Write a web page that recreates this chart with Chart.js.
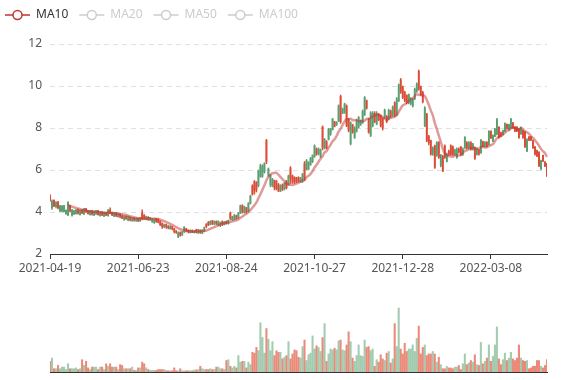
<!DOCTYPE html>
<html>
<head>
<meta charset="utf-8">
<script src="https://cdn.jsdelivr.net/npm/chart.js@4.4.1/dist/chart.umd.min.js"></script>
<style>
  html, body { margin: 0; padding: 0; background: #fff; }
  #wrap { position: relative; width: 577px; height: 380px; }
  #price { position: absolute; left: 0; top: 0; }
  #vol { position: absolute; left: 0; top: 285px; }
</style>
</head>
<body>
<div id="wrap">
  <canvas id="price" width="577" height="285"></canvas>
  <canvas id="vol" width="577" height="95"></canvas>
</div>
<script>
// tick labels shown on the x axis, one every 44 trading days
const tickLabels = ['2021-04-19', '2021-06-23', '2021-08-24', '2021-10-27', '2021-12-28', '2022-03-08'];
const tickEvery = 44;
const maNames = ['MA10', 'MA20', 'MA50', 'MA100'];

// daily candles: [open, close, low, high]
const candles = [
  [4.80,4.55,4.50,4.82],[4.20,4.52,4.12,4.58],[4.55,4.28,4.25,4.58],[4.25,4.45,4.20,4.50],[4.48,4.20,4.15,4.50],
  [4.05,4.30,4.02,4.32],[4.05,4.28,4.02,4.30],[4.02,4.30,4.00,4.32],[3.92,4.08,3.88,4.10],[3.85,4.45,3.82,4.50],
  [4.30,4.05,4.02,4.32],[3.85,4.10,3.80,4.12],[3.90,4.05,3.88,4.08],[3.92,4.10,3.90,4.12],[4.12,3.95,3.90,4.15],
  [3.88,4.08,3.85,4.10],[4.10,3.95,3.92,4.12],[3.90,4.15,3.88,4.18],[4.15,4.00,3.98,4.18],[4.05,3.92,3.90,4.08],
  [3.88,4.05,3.85,4.08],[4.05,3.90,3.85,4.08],[3.85,4.02,3.82,4.05],[3.90,4.05,3.88,4.08],[4.05,3.88,3.85,4.08],
  [3.82,4.00,3.80,4.02],[4.00,3.85,3.82,4.02],[3.80,3.98,3.78,4.00],[3.98,3.85,3.82,4.00],[3.82,4.10,3.80,4.12],
  [4.10,3.95,3.92,4.20],[3.98,3.85,3.82,4.00],[3.80,3.95,3.78,3.98],[3.95,3.82,3.78,3.98],[3.78,3.92,3.75,3.95],
  [3.90,3.78,3.72,3.92],[3.82,3.70,3.68,3.85],[3.65,3.80,3.60,3.82],[3.80,3.68,3.65,3.82],[3.62,3.78,3.58,3.80],
  [3.75,3.62,3.58,3.78],[3.60,3.72,3.55,3.75],[3.72,3.60,3.56,3.74],[3.58,3.70,3.55,3.72],[3.70,3.58,3.54,3.72],
  [3.58,3.72,3.55,3.75],[3.95,3.68,3.62,4.10],[3.85,3.70,3.65,3.88],[3.65,3.78,3.62,3.80],[3.75,3.65,3.60,3.78],
  [3.62,3.72,3.60,3.75],[3.55,3.68,3.50,3.70],[3.50,3.65,3.46,3.68],[3.68,3.55,3.50,3.70],[3.65,3.52,3.48,3.68],
  [3.55,3.40,3.35,3.58],[3.45,3.30,3.22,3.48],[3.28,3.40,3.25,3.42],[3.40,3.30,3.22,3.42],[3.32,3.25,3.20,3.35],
  [3.20,3.32,3.18,3.35],[3.30,3.20,3.15,3.32],[3.20,3.08,3.00,3.22],[3.10,3.02,2.98,3.12],[2.82,3.00,2.78,3.05],
  [3.02,2.90,2.85,3.05],[2.90,3.05,2.88,3.08],[3.05,3.28,3.02,3.30],[3.20,3.10,3.05,3.22],[3.12,3.05,3.00,3.15],
  [3.02,3.12,3.00,3.15],[3.12,3.05,3.02,3.15],[3.02,3.10,3.00,3.12],[3.15,3.05,3.00,3.18],[3.00,3.15,2.98,3.18],
  [3.12,3.02,2.98,3.15],[3.00,3.12,2.96,3.15],[3.08,3.25,3.05,3.28],[3.40,3.30,3.25,3.45],[3.50,3.40,3.35,3.55],
  [3.40,3.55,3.38,3.58],[3.58,3.45,3.40,3.60],[3.42,3.55,3.40,3.58],[3.55,3.45,3.40,3.58],[3.40,3.55,3.35,3.58],
  [3.38,3.50,3.30,3.52],[3.55,3.42,3.35,3.58],[3.40,3.52,3.38,3.55],[3.55,3.45,3.42,3.58],[3.45,3.60,3.42,3.62],
  [3.95,3.70,3.62,4.00],[3.62,3.78,3.60,3.80],[3.65,3.85,3.62,3.88],[3.82,3.70,3.65,3.85],[3.72,3.95,3.70,3.98],
  [3.95,4.30,3.92,4.33],[4.30,4.00,3.95,4.35],[3.98,4.25,3.95,4.28],[4.20,4.00,3.95,4.22],[4.05,4.40,4.02,4.45],
  [4.40,4.75,4.38,4.80],[5.25,4.85,4.80,5.30],[5.45,5.00,4.85,5.50],[5.40,5.05,4.95,5.45],[5.25,5.95,5.20,6.00],
  [5.70,6.20,5.65,6.28],[5.70,6.20,5.65,6.25],[5.90,6.30,5.85,6.35],[7.40,6.40,6.30,7.46],[5.75,6.05,5.70,6.10],
  [5.30,5.75,5.20,5.78],[5.25,5.55,5.20,5.60],[5.50,5.15,5.05,5.52],[5.48,5.10,5.05,5.50],[5.30,5.00,4.97,5.36],
  [5.00,5.25,4.97,5.30],[5.30,5.08,5.02,5.34],[5.10,5.38,5.05,5.40],[5.48,5.15,5.10,5.50],[5.30,5.72,5.28,5.76],
  [6.10,5.60,5.36,6.16],[5.72,5.45,5.36,5.76],[5.65,5.42,5.36,5.68],[5.62,5.45,5.40,5.65],[5.65,5.48,5.42,5.68],
  [5.45,5.60,5.42,5.65],[5.45,5.80,5.40,5.84],[6.30,5.60,5.50,6.40],[6.02,6.45,6.00,6.50],[6.05,6.35,6.00,6.40],
  [6.25,6.55,6.22,6.60],[6.40,6.70,6.35,6.72],[6.65,7.15,6.60,7.20],[7.00,6.75,6.70,7.05],[6.78,7.00,6.72,7.05],
  [6.65,6.95,6.60,7.00],[8.05,7.05,6.95,8.10],[7.05,7.45,7.00,7.50],[7.35,7.05,7.00,7.40],[7.45,7.95,7.43,7.98],
  [7.70,7.95,7.65,7.98],[7.92,8.42,7.90,8.46],[8.30,8.08,8.05,8.32],[8.15,8.28,8.12,8.30],[8.32,9.05,8.30,9.10],
  [9.50,8.30,8.22,9.57],[8.70,8.90,8.68,8.95],[8.72,9.15,8.70,9.18],[9.05,8.10,8.06,9.10],[8.40,7.90,7.82,8.46],
  [7.25,8.25,7.19,8.30],[8.15,7.80,7.75,8.18],[7.55,8.00,7.50,8.06],[7.85,8.35,7.80,8.40],[8.05,8.50,8.00,8.55],
  [8.15,8.35,8.12,8.38],[8.25,8.80,8.22,8.86],[8.62,9.45,8.60,9.50],[9.30,8.95,8.90,9.33],[8.42,7.80,7.75,8.46],
  [7.65,8.72,7.59,8.78],[8.10,8.70,8.05,8.78],[8.70,8.30,8.25,8.78],[8.20,8.70,8.15,8.78],[8.65,8.40,8.35,8.70],
  [8.60,8.10,8.05,8.62],[8.45,8.00,7.90,8.50],[8.50,8.85,8.46,8.90],[8.55,8.30,8.25,8.60],[8.40,8.85,8.38,8.90],
  [8.80,8.55,8.50,8.85],[8.60,9.00,8.55,9.05],[9.20,8.60,8.54,9.25],[8.65,9.40,8.60,9.45],[9.30,10.05,9.25,10.10],
  [10.30,9.70,9.65,10.36],[9.95,9.45,9.40,10.00],[9.70,9.30,9.25,9.75],[9.55,9.20,9.15,9.58],[9.20,9.60,9.15,9.62],
  [9.15,9.40,9.10,9.45],[9.05,9.35,9.00,9.41],[9.40,9.85,9.35,9.90],[9.75,10.10,9.70,10.15],[10.70,9.85,9.80,10.76],
  [9.95,9.60,9.55,10.00],[9.70,9.25,9.20,9.75],[8.10,8.95,8.06,9.02],[8.65,7.40,7.35,8.70],[7.60,7.30,7.20,7.65],
  [7.40,6.75,6.71,7.43],[6.75,7.05,6.70,7.10],[7.15,6.12,6.08,7.19],[6.70,7.30,6.65,7.35],[7.30,6.60,6.55,7.35],
  [6.20,6.70,6.15,6.75],[6.65,5.95,5.92,6.70],[7.15,6.60,6.55,7.20],[6.40,6.75,6.38,6.80],[6.90,6.75,6.70,6.95],
  [7.15,6.75,6.70,7.20],[7.10,6.75,6.70,7.15],[6.75,6.95,6.70,7.00],[6.60,7.00,6.55,7.05],[7.00,6.85,6.80,7.05],
  [7.10,6.75,6.70,7.12],[6.75,7.00,6.70,7.05],[7.05,7.55,7.03,7.59],[7.30,7.05,7.00,7.35],[7.05,7.30,7.00,7.35],
  [7.30,7.00,6.95,7.35],[6.98,7.25,6.95,7.27],[7.05,6.55,6.50,7.10],[6.75,7.00,6.71,7.03],[6.95,6.75,6.71,6.98],
  [6.82,7.42,6.79,7.46],[7.35,7.12,7.10,7.38],[7.12,7.32,7.10,7.35],[7.32,7.12,7.10,7.35],[7.20,7.85,7.19,7.87],
  [7.85,7.52,7.50,7.87],[7.38,7.65,7.35,7.67],[7.60,7.95,7.59,7.98],[7.70,8.40,7.67,8.46],[8.05,7.55,7.50,8.06],
  [7.78,7.62,7.59,7.80],[7.68,7.88,7.67,7.90],[7.85,8.22,7.83,8.25],[8.18,7.96,7.94,8.19],[7.92,8.16,7.90,8.19],
  [8.00,8.42,7.98,8.46],[8.25,8.00,7.98,8.27],[8.05,7.85,7.83,8.06],[8.05,7.85,7.83,8.06],[7.95,7.55,7.50,7.98],
  [7.72,8.02,7.70,8.06],[7.88,7.55,7.50,7.90],[7.80,7.10,7.08,7.83],[6.90,7.45,6.87,7.50],[7.58,7.42,7.40,7.59],
  [7.58,7.42,7.40,7.59],[7.40,7.05,7.03,7.43],[7.10,6.75,6.71,7.11],[6.92,6.66,6.63,6.95],[6.85,6.20,6.16,6.87],
  [6.05,6.45,6.00,6.47],[6.70,6.42,6.40,6.71],[6.38,6.18,6.16,6.40],[6.30,5.72,5.68,6.32]
];

// daily volume (relative units, axis max 100)
const volumes = [
  13,17,4,4,8,4,6,6,3,10,  4,4,4,5,3,4,15,8,13,5,  3,6,6,6,3,6,6,3,10,7,  10,6,6,6,3,9,8,4,4,4,
  4,6,2,2,5,5,12,10,5,3,  2,2,2,2,3,3,3,3,1.5,1.5,  1.5,1.5,5,1.5,1.5,4,1.5,1.5,1.5,1.5,
  1.5,1.5,2.5,2.5,3,7,4,3,3,3,  4,3,3,6,6,4,4,3,14,15,  7,5,7,5,20,12,13,13,5,12,
  9,24,23,30,26,60,42,23,53,40,  26,37,20,26,24,24,16,18,20,37,  16,22,27,26,18,17,31,39,14,21,
  23,44,28,32,30,25,42,59,13,22,  28,27,29,27,38,39,27,26,33,49,  37,17,13,20,33,20,19,39,30,31,
  26,28,7,15,12,21,16,14,23,25,  11,16,59,31,78,28,22,35,25,28,  28,33,25,41,56,22,30,33,20,22,
  22,25,22,12,18,9,4,4,7,5,  5,4,6,6,8,3,10,22,9,11,  14,12,21,9,8,36,10,13,17,33,
  13,19,33,55,16,9,15,23,14,17,  24,16,14,17,33,17,14,13,14,4,  5,7,7,14,14,7,5,8,15
];

const upColor = '#5a9e71';
const downColor = '#dc4b36';
const font = { family: '"Noto Sans", sans-serif', size: 12 };

const categories = volumes.map((v, i) => i);
const closes = candles.map(c => c[1]);
const ma10 = closes.map((c, i) => {
  if (i < 9) return null;
  let sum = 0;
  for (let k = i - 9; k <= i; k++) sum += closes[k];
  return sum / 10;
});
const isDown = i => candles[i][1] < candles[i][0];

// echarts style legend: line + hollow circle, only MA10 active
const maLegend = {
  id: 'maLegend',
  afterDraw(chart) {
    const ctx = chart.ctx;
    let x = 5;
    const y = 15;
    ctx.save();
    ctx.font = '12px "Noto Sans", sans-serif';
    ctx.textBaseline = 'middle';
    maNames.forEach((name, k) => {
      const col = k === 0 ? '#c23531' : '#cccccc';
      ctx.strokeStyle = col;
      ctx.lineWidth = 1.5;
      ctx.beginPath();
      ctx.moveTo(x, y);
      ctx.lineTo(x + 25, y);
      ctx.stroke();
      ctx.beginPath();
      ctx.arc(x + 12.5, y, 4.5, 0, Math.PI * 2);
      ctx.fillStyle = '#fff';
      ctx.fill();
      ctx.stroke();
      ctx.fillStyle = k === 0 ? '#333' : '#cccccc';
      ctx.fillText(name, x + 31, y);
      x += 31 + ctx.measureText(name).width + 11;
    });
    ctx.restore();
  }
};

const candleColor = ctx => isDown(ctx.dataIndex) ? downColor : upColor;
const isLabelled = i => i % tickEvery === 0 && i / tickEvery < tickLabels.length;

new Chart(document.getElementById('price'), {
  type: 'bar',
  data: {
    labels: categories,
    datasets: [
      {
        type: 'line',
        label: 'MA10',
        data: ma10,
        borderColor: 'rgba(194,53,49,0.5)',
        borderWidth: 2.5,
        pointRadius: 0,
        tension: 0.4,
        order: 0
      },
      {
        label: 'wick',
        data: candles.map(c => [c[2], c[3]]),
        backgroundColor: candleColor,
        barThickness: 0.8,
        grouped: false,
        order: 1
      },
      {
        label: 'body',
        data: candles.map(c => [c[0], c[1]]),
        backgroundColor: candleColor,
        barThickness: 1.2,
        grouped: false,
        order: 1
      }
    ]
  },
  options: {
    responsive: false,
    animation: false,
    layout: { padding: { top: 44, right: 30, left: 0, bottom: 0 } },
    plugins: { legend: { display: false }, tooltip: { enabled: false } },
    scales: {
      x: {
        offset: false,
        grid: {
          display: true,
          offset: false,
          drawOnChartArea: false,
          drawTicks: true,
          tickLength: 5,
          color: '#333'
        },
        border: { display: true, color: '#333' },
        ticks: {
          autoSkip: false,
          maxRotation: 0,
          minRotation: 0,
          padding: 2,
          color: '#555',
          font: font,
          callback: (v, i) => isLabelled(i) ? tickLabels[i / tickEvery] : null
        },
        afterFit: s => { s.height = 31; }
      },
      y: {
        min: 2,
        max: 12,
        ticks: { stepSize: 2, padding: 8, color: '#555', font: font },
        grid: { color: '#e0e0e0', drawTicks: false },
        border: { display: false, dash: [5, 4] },
        afterFit: s => { s.width = 50; }
      }
    }
  },
  plugins: [maLegend]
});

new Chart(document.getElementById('vol'), {
  type: 'bar',
  data: {
    labels: categories,
    datasets: [{
      label: 'Volume',
      data: volumes,
      backgroundColor: ctx => isDown(ctx.dataIndex) ? 'rgba(228,88,66,0.7)' : 'rgba(100,168,124,0.6)',
      barThickness: 1.4
    }]
  },
  options: {
    responsive: false,
    animation: false,
    layout: { padding: { top: 5, bottom: 8, left: 50, right: 30 } },
    plugins: { legend: { display: false }, tooltip: { enabled: false } },
    scales: {
      x: {
        offset: false,
        ticks: { display: false },
        grid: { display: false },
        border: { display: true, color: '#333' },
        afterFit: s => { s.height = 0; }
      },
      y: { display: false, min: 0, max: 100 }
    }
  }
});
</script>
</body>
</html>
